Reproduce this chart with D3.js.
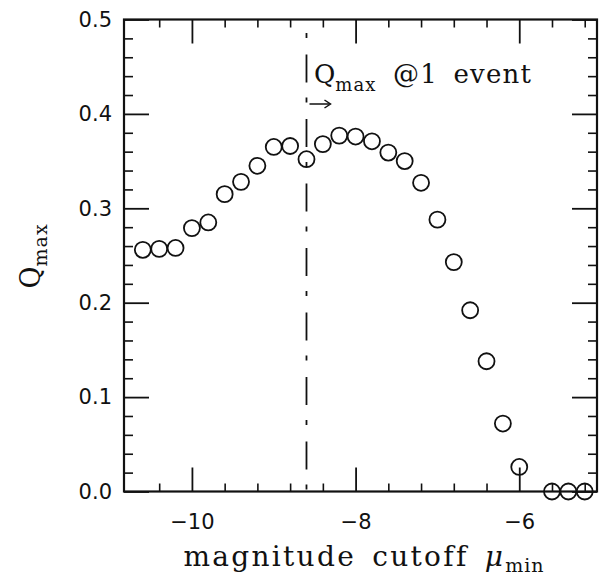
<!DOCTYPE html>
<html><head><meta charset="utf-8">
<script src="https://cdn.jsdelivr.net/npm/d3@7"></script>
<style>body{margin:0;background:#fff}svg{display:block}</style>
</head><body><svg id="c" width="606" height="578"></svg>
<script>
// ---- data ----
const mu = [-10.6,-10.4,-10.2,-10.0,-9.8,-9.6,-9.4,-9.2,-9.0,-8.8,-8.6,-8.4,-8.2,-8.0,-7.8,-7.6,-7.4,-7.2,-7.0,-6.8,-6.6,-6.4,-6.2,-6.0,-5.6,-5.4,-5.2];
const qmax = [0.256,0.257,0.258,0.279,0.285,0.315,0.328,0.345,0.365,0.366,0.352,0.368,0.377,0.376,0.371,0.359,0.350,0.327,0.288,0.243,0.192,0.138,0.072,0.026,0,0,0];
const xMajorTicks = [-10,-8,-6];
const xMinorTicks = [-10.4,-9.6,-9.2,-8.8,-8.4,-7.6,-7.2,-6.8,-6.4,-5.6,-5.2];
const yMajorTicks = [0,0.1,0.2,0.3,0.4,0.5];
const yMinorTicks = [0.02,0.04,0.06,0.08,0.12,0.14,0.16,0.18,0.22,0.24,0.26,0.28,0.32,0.34,0.36,0.38,0.42,0.44,0.46,0.48];
const cutoffLine = -8.6;

// ---- layout ----
const L=124, R=597, T=19.5, B=491.5;
const svg = d3.select("#c");
const x = d3.scaleLinear().domain([-10.83,-5.05]).range([L,R]);
const y = d3.scaleLinear().domain([0,0.5]).range([B,T]);
const ink = "#111";
const tickFont = "DejaVu Sans, sans-serif";
const serif = "DejaVu Serif, serif";
const fmtX = d => d3.format("d")(d).replace("-","\u2212");
const fmtY = d3.format(".1f");

function styleAxis(g, w){
  g.select(".domain").remove();
  g.selectAll(".tick line").attr("stroke",ink).attr("stroke-width",w);
  g.selectAll(".tick text").attr("fill",ink).attr("font-family",tickFont).attr("font-size",21);
}
// bottom
svg.append("g").attr("transform",`translate(0,${B})`)
  .call(d3.axisBottom(x).tickValues(xMajorTicks).tickSize(-24).tickSizeOuter(0).tickPadding(23).tickFormat(fmtX))
  .call(g=>styleAxis(g,1.8));
svg.append("g").attr("transform",`translate(0,${B})`)
  .call(d3.axisBottom(x).tickValues(xMinorTicks).tickSize(-8).tickSizeOuter(0).tickFormat(""))
  .call(g=>styleAxis(g,1.6));
// top
svg.append("g").attr("transform",`translate(0,${T})`)
  .call(d3.axisTop(x).tickValues(xMajorTicks).tickSize(-24).tickSizeOuter(0).tickFormat(""))
  .call(g=>styleAxis(g,1.8));
svg.append("g").attr("transform",`translate(0,${T})`)
  .call(d3.axisTop(x).tickValues(xMinorTicks).tickSize(-8).tickSizeOuter(0).tickFormat(""))
  .call(g=>styleAxis(g,1.6));
// left
svg.append("g").attr("transform",`translate(${L},0)`)
  .call(d3.axisLeft(y).tickValues(yMajorTicks).tickSize(-25).tickSizeOuter(0).tickPadding(12).tickFormat(fmtY))
  .call(g=>styleAxis(g,1.8));
svg.append("g").attr("transform",`translate(${L},0)`)
  .call(d3.axisLeft(y).tickValues(yMinorTicks).tickSize(-9).tickSizeOuter(0).tickFormat(""))
  .call(g=>styleAxis(g,1.6));
// right
svg.append("g").attr("transform",`translate(${R},0)`)
  .call(d3.axisRight(y).tickValues(yMajorTicks).tickSize(-25).tickSizeOuter(0).tickFormat(""))
  .call(g=>styleAxis(g,1.8));
svg.append("g").attr("transform",`translate(${R},0)`)
  .call(d3.axisRight(y).tickValues(yMinorTicks).tickSize(-9).tickSizeOuter(0).tickFormat(""))
  .call(g=>styleAxis(g,1.6));

// frame
svg.append("rect").attr("x",L).attr("y",T).attr("width",R-L).attr("height",B-T)
  .attr("fill","none").attr("stroke",ink).attr("stroke-width",2.2);

// dash-dot cutoff line
svg.append("line").attr("x1",x(cutoffLine)).attr("x2",x(cutoffLine)).attr("y1",B).attr("y2",T)
  .attr("stroke",ink).attr("stroke-width",1.8).attr("stroke-dasharray","0 2 5 15 28 14.5");

// points
svg.append("g").selectAll("circle").data(mu.map((m,i)=>[m,qmax[i]])).join("circle")
  .attr("cx",d=>x(d[0])).attr("cy",d=>y(d[1])).attr("r",8)
  .attr("fill","none").attr("stroke",ink).attr("stroke-width",1.8);

// annotation
const ann = svg.append("text").attr("x",314).attr("y",83).attr("fill",ink)
  .attr("font-family",serif).attr("font-size",26);
ann.append("tspan").text("Q");
ann.append("tspan").attr("dy",8).attr("font-size",18).attr("letter-spacing",1).text("max");
ann.append("tspan").attr("dy",-8).attr("x",393).attr("letter-spacing",1.2).attr("word-spacing",6).text("@1 event");
// arrow
const ax0 = x(cutoffLine)+3, ax1 = ax0+21, ay = 104;
svg.append("line").attr("x1",ax0).attr("x2",ax1-1).attr("y1",ay).attr("y2",ay).attr("stroke",ink).attr("stroke-width",1.5);
svg.append("path").attr("d",`M${ax1-6},${ay-4} L${ax1},${ay} L${ax1-6},${ay+4}`).attr("fill","none").attr("stroke",ink).attr("stroke-width",1.5);

// x title
const xt = svg.append("text").attr("x",364).attr("y",566).attr("text-anchor","middle").attr("fill",ink)
  .attr("font-family",serif).attr("font-size",28).attr("letter-spacing",2.3).attr("word-spacing",5);
xt.append("tspan").text("magnitude cutoff ");
xt.append("tspan").attr("font-style","italic").text("\u03BC");
xt.append("tspan").attr("dy",6).attr("font-size",19).attr("letter-spacing",1).text("min");

// y title
const yt = svg.append("text").attr("transform","translate(40,256) rotate(-90)").attr("text-anchor","middle").attr("fill",ink)
  .attr("font-family",serif).attr("font-size",27);
yt.append("tspan").text("Q");
yt.append("tspan").attr("dy",7).attr("font-size",19).attr("letter-spacing",1).text("max");
</script></body></html>
